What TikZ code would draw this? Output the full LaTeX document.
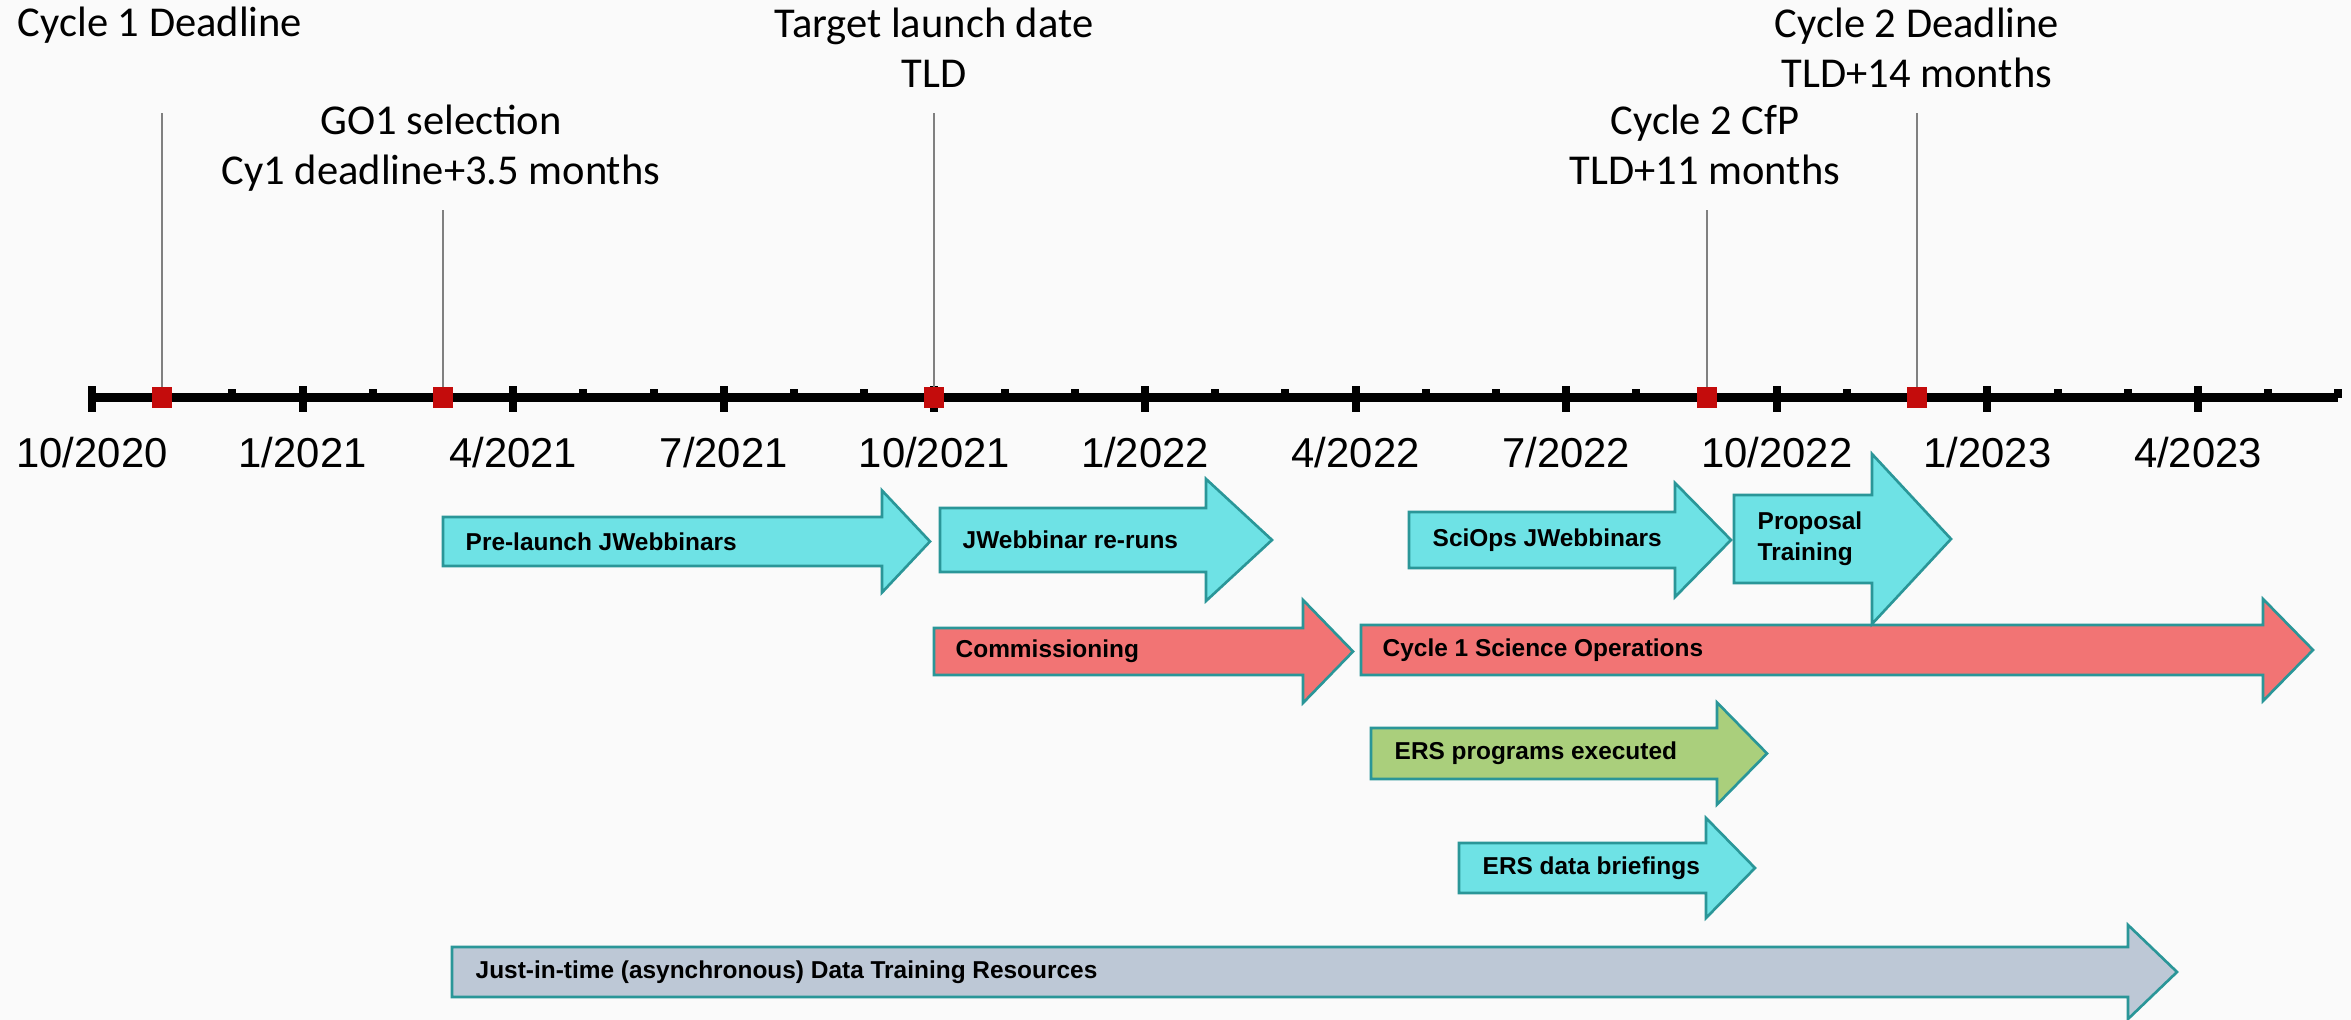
\documentclass[tikz,border=0pt]{standalone}
\usepackage{fontspec}
\setmainfont{Liberation Sans}
\newfontfamily\carlito{Carlito}
\definecolor{bgcol}{RGB}{250,250,250}
\definecolor{aqua}{RGB}{110,226,229}
\definecolor{tealline}{RGB}{42,150,152}
\definecolor{salmon}{RGB}{242,116,116}
\definecolor{leaf}{RGB}{170,207,124}
\definecolor{steel}{RGB}{189,200,214}
\definecolor{deadred}{RGB}{196,12,12}
\definecolor{leadgray}{RGB}{128,128,128}
\begin{document}
\begin{tikzpicture}[
    aquaarrow/.style={draw=tealline,line width=0.75pt,fill=aqua},
    salmonarrow/.style={draw=tealline,line width=0.75pt,fill=salmon},
    leafarrow/.style={draw=tealline,line width=0.75pt,fill=leaf},
    steelarrow/.style={draw=tealline,line width=0.75pt,fill=steel},
    arrowtext/.style={anchor=west,inner sep=0pt,align=left,font=\bfseries\fontsize{6.95}{8.8}\selectfont}]
  \useasboundingbox (0,0) rectangle (23.51,10.20);
  \fill[bgcol] (0,0) rectangle (23.51,10.20);

  % time axis, one tick per month
  \coordinate (t0) at (0.92,6.22);
  \coordinate (t32) at (23.38,6.22);
  \draw[line width=0.9mm] (t0) -- (t32);
  \foreach \m in {1,...,32}
    \draw[line width=0.8mm] (0.92+0.702*\m,6.22) -- ++(0,0.09);
  \foreach \m/\mo/\yr in {0/10/2020,3/1/2021,6/4/2021,9/7/2021,12/10/2021,15/1/2022,
                          18/4/2022,21/7/2022,24/10/2022,27/1/2023,30/4/2023} {
    \draw[line width=0.8mm] (0.92+0.702*\m,6.08) -- ++(0,0.26);
    \node[anchor=base,inner sep=0pt,font=\fontsize{11.9}{14}\selectfont] (d\m) at (0.92+0.702*\m,5.52) {\mo/\yr};
  }

  % milestones
  \begin{scope}[every node/.style={rectangle,fill=deadred,minimum width=2mm,minimum height=2.1mm,inner sep=0pt}]
    \node (cy1) at (0.92+0.702*1,6.22) {};
    \node (go1) at (0.92+0.702*5,6.22) {};
    \node (tld) at (0.92+0.702*12,6.22) {};
    \node (cfp) at (0.92+0.702*23,6.22) {};
    \node (cy2) at (0.92+0.702*26,6.22) {};
  \end{scope}
  \coordinate (cy1top) at (0.92+0.702*1,9.07);
  \coordinate (go1top) at (0.92+0.702*5,8.10);
  \coordinate (tldtop) at (0.92+0.702*12,9.07);
  \coordinate (cfptop) at (0.92+0.702*23,8.10);
  \coordinate (cy2top) at (0.92+0.702*26,9.07);
  \begin{scope}[leadgray,line width=0.2mm]
    \draw (cy1.north) -- (cy1top);
    \draw (go1.north) -- (go1top);
    \draw (tld.north) -- (tldtop);
    \draw (cfp.north) -- (cfptop);
    \draw (cy2.north) -- (cy2top);
  \end{scope}

  % base is the last line of a two-line label
  \begin{scope}[every node/.style={anchor=base,align=center,inner sep=0pt,font=\carlito\fontsize{12.1}{14.5}\selectfont}]
    \node (cy1lab) at (1.60,9.83) {Cycle 1 Deadline};
    \node (go1lab) at (4.41,8.35) {GO1 selection\\Cy1 deadline+3.5 months};
    \node (tldlab) at (9.34,9.32) {Target launch date\\TLD};
    \node (cfplab) at (17.05,8.35) {Cycle 2 CfP\\TLD+11 months};
    \node (cy2lab) at (19.17,9.32) {Cycle 2 Deadline\\TLD+14 months};
  \end{scope}

  % activities
  \draw[aquaarrow] (4.43,4.54) -- (8.82,4.54) -- (8.82,4.275) -- (9.30,4.785) -- (8.82,5.295) -- (8.82,5.03) -- (4.43,5.03) -- cycle;
  \node[arrowtext] (prelaunch) at (4.65,4.785) {Pre-launch JWebbinars};

  \draw[aquaarrow] (9.40,4.48) -- (12.06,4.48) -- (12.06,4.19) -- (12.72,4.80) -- (12.06,5.41) -- (12.06,5.12) -- (9.40,5.12) -- cycle;
  \node[arrowtext] (reruns) at (9.62,4.80) {JWebbinar re-runs};

  \draw[salmonarrow] (9.34,3.45) -- (13.03,3.45) -- (13.03,3.17) -- (13.53,3.685) -- (13.03,4.20) -- (13.03,3.92) -- (9.34,3.92) -- cycle;
  \node[arrowtext] (comm) at (9.55,3.685) {Commissioning};

  \draw[salmonarrow] (13.61,3.45) -- (22.63,3.45) -- (22.63,3.19) -- (23.13,3.70) -- (22.63,4.21) -- (22.63,3.95) -- (13.61,3.95) -- cycle;
  \node[arrowtext] (sciops) at (13.82,3.70) {Cycle 1 Science Operations};

  \draw[aquaarrow] (14.09,4.52) -- (16.75,4.52) -- (16.75,4.23) -- (17.31,4.80) -- (16.75,5.37) -- (16.75,5.08) -- (14.09,5.08) -- cycle;
  \node[arrowtext] (sciopsweb) at (14.32,4.80) {SciOps JWebbinars};

  \draw[aquaarrow] (17.34,4.37) -- (18.72,4.37) -- (18.72,3.96) -- (19.51,4.81) -- (18.72,5.66) -- (18.72,5.25) -- (17.34,5.25) -- cycle;
  \node[arrowtext] (proposal) at (17.57,4.81) {Proposal\\Training};

  \draw[leafarrow] (13.71,2.41) -- (17.17,2.41) -- (17.17,2.155) -- (17.67,2.665) -- (17.17,3.175) -- (17.17,2.92) -- (13.71,2.92) -- cycle;
  \node[arrowtext] (ersexec) at (13.94,2.665) {ERS programs executed};

  \draw[aquaarrow] (14.59,1.27) -- (17.06,1.27) -- (17.06,1.02) -- (17.55,1.52) -- (17.06,2.02) -- (17.06,1.77) -- (14.59,1.77) -- cycle;
  \node[arrowtext] (ersdata) at (14.82,1.52) {ERS data briefings};

  \draw[steelarrow] (4.52,0.23) -- (21.28,0.23) -- (21.28,0.01) -- (21.77,0.48) -- (21.28,0.95) -- (21.28,0.73) -- (4.52,0.73) -- cycle;
  \node[arrowtext] (jit) at (4.75,0.48) {Just-in-time (asynchronous) Data Training Resources};
\end{tikzpicture}
\end{document}
